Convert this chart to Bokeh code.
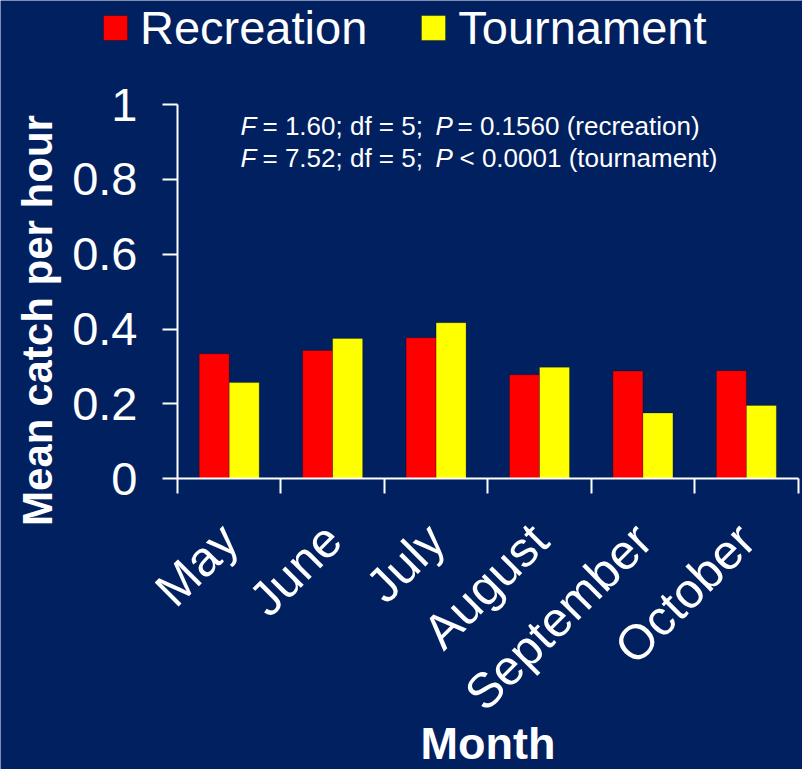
from math import pi
from bokeh.plotting import figure
from bokeh.models import (Range1d, FixedTicker, NumeralTickFormatter, Legend,
                          LegendItem, Label, ColumnDataSource)
from bokeh.embed import file_html
from bokeh.resources import INLINE

# ---- data ----
months = ["May", "June", "July", "August", "September", "October"]
recreation = [0.334, 0.343, 0.377, 0.278, 0.288, 0.289]
tournament = [0.257, 0.375, 0.417, 0.298, 0.176, 0.196]
series_names = ["Recreation", "Tournament"]
series_colors = ["#FF0000", "#FFFF00"]
y_ticks = [0, 0.2, 0.4, 0.6, 0.8, 1]
stats_rec = ["F", "= 1.60; df = 5;", "P", "= 0.1560 (recreation)"]
stats_tour = ["F", "= 7.52; df = 5;", "P", "< 0.0001 (tournament)"]
x_title = "Month"
y_title = "Mean catch per hour"

BG = "#002060"
FONT = "Liberation Sans"
W, H = 802, 769

# layout: plot area (axes box) in canvas pixels
AX_L, AX_R, AX_T, AX_B = 177.0, 797.6, 104.0, 478.3
n = len(months)
ppx = (AX_R - AX_L) / n          # pixels per category
ppy = (AX_B - AX_T) / 1.0        # pixels per unit of y

centers = [i + 0.5 for i in range(n)]
bar_w = 0.29
src = ColumnDataSource(dict(
    x_rec=[c - bar_w / 2 for c in centers],
    x_tour=[c + bar_w / 2 for c in centers],
    recreation=recreation,
    tournament=tournament,
))

p = figure(width=W, height=H, output_backend="svg", toolbar_location=None,
           x_range=Range1d(-AX_L / ppx, n + (W - AX_R) / ppx),
           y_range=Range1d(-(H - AX_B) / ppy, 1 + AX_T / ppy),
           min_border=0)
p.background_fill_color = BG
p.border_fill_color = BG
p.outline_line_color = None
p.xgrid.grid_line_color = None
p.ygrid.grid_line_color = None

r1 = p.vbar(x="x_rec", top="recreation", width=bar_w, source=src,
            fill_color=series_colors[0], line_color="black", line_alpha=0.25)
r2 = p.vbar(x="x_tour", top="tournament", width=bar_w, source=src,
            fill_color=series_colors[1], line_color="black", line_alpha=0.25)

# y axis drawn at x = 0
ya = p.yaxis[0]
ya.fixed_location = 0
ya.bounds = (0, 1)
ya.ticker = FixedTicker(ticks=y_ticks)
ya.formatter = NumeralTickFormatter(format="0.[0]")
ya.axis_line_color = "white"
ya.axis_line_width = 2
ya.major_tick_line_color = "white"
ya.major_tick_line_width = 2
ya.major_tick_out = 15
ya.major_tick_in = 0
ya.minor_tick_line_color = None
ya.major_label_text_color = "white"
ya.major_label_text_font = FONT
ya.major_label_text_font_size = "47px"
ya.major_label_standoff = 25

# x axis drawn at y = 0: ticks at month boundaries (minor), labels at centres
xa = p.xaxis[0]
xa.fixed_location = 0
xa.bounds = (0, n)
xa.ticker = FixedTicker(ticks=centers, minor_ticks=list(range(n + 1)))
xa.major_label_overrides = {c: m for c, m in zip(centers, months)}
xa.axis_line_color = "white"
xa.axis_line_width = 2
xa.major_tick_line_color = None
xa.major_tick_out = 0
xa.major_tick_in = 0
xa.minor_tick_line_color = "white"
xa.minor_tick_line_width = 2
xa.minor_tick_out = 15
xa.minor_tick_in = 0
xa.major_label_orientation = pi / 4
xa.major_label_text_color = "white"
xa.major_label_text_font = FONT
xa.major_label_text_font_size = "49px"
xa.major_label_standoff = 38

# axis titles (screen px from the canvas bottom-left)
p.add_layout(Label(x=487.5, y=H - 742.5, x_units="screen", y_units="screen",
                   text=x_title, text_align="center", text_baseline="middle",
                   text_color="white", text_font=FONT, text_font_style="bold",
                   text_font_size="45px"))
p.add_layout(Label(x=37, y=H - 320, x_units="screen", y_units="screen",
                   text=y_title, angle=pi / 2, text_align="center",
                   text_baseline="middle", text_color="white", text_font=FONT,
                   text_font_style="bold", text_font_size="42px"))

# statistics annotation
for mid_y, segs, seg_x in ((125.3, stats_rec, [240, 262, 435, 457]),
                           (157.0, stats_tour, [240, 262, 435, 459])):
    for i, (sx, t) in enumerate(zip(seg_x, segs)):
        p.add_layout(Label(x=sx, y=H - mid_y, x_units="screen", y_units="screen",
                           text=t, text_color="white", text_font=FONT,
                           text_font_size="26px",
                           text_font_style="italic" if i % 2 == 0 else "normal",
                           text_baseline="middle"))

legend = Legend(items=[LegendItem(label=series_names[0], renderers=[r1]),
                       LegendItem(label=series_names[1], renderers=[r2])],
                orientation="horizontal", location=(100, H - 55),
                label_text_font=FONT, label_text_font_size="47px",
                label_text_color="white", glyph_width=30, glyph_height=31,
                label_standoff=10, spacing=51, padding=0, margin=0,
                border_line_color=None, background_fill_alpha=0)
p.add_layout(legend)

html = file_html(p, INLINE)
html = html.replace("<body>", '<body style="background-color:%s;">' % BG, 1)
open("out.html", "w").write(html)
